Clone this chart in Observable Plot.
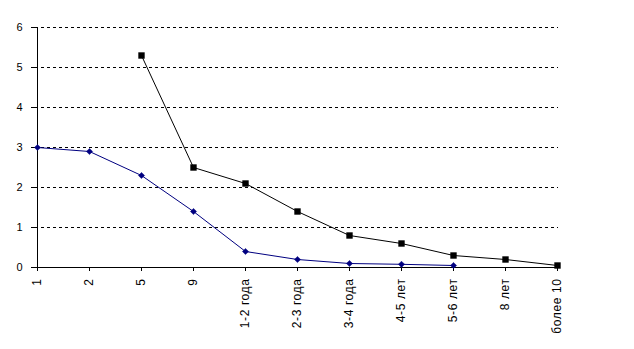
<!DOCTYPE html>
<html>
<head>
<meta charset="utf-8">
<script src="https://cdn.jsdelivr.net/npm/d3@7"></script>
<script src="https://cdn.jsdelivr.net/npm/@observablehq/plot@0.6"></script>
<style>
  html, body { margin: 0; padding: 0; background: #fff; }
  #chart svg { display: block; }
  #chart svg g[aria-label="x-axis tick label"] text { letter-spacing: 0.6px; }
</style>
</head>
<body>
<div id="chart"></div>
<script>
const categories = ["1", "2", "5", "9", "1-2 года", "2-3 года", "3-4 года", "4-5 лет", "5-6 лет", "8 лет", "более 10"];
const seriesBlue = [3.0, 2.9, 2.3, 1.4, 0.4, 0.2, 0.1, 0.08, 0.05, null, null];
const seriesBlack = [null, null, 5.3, 2.5, 2.1, 1.4, 0.8, 0.6, 0.3, 0.2, 0.05];
const yTicks = [0, 1, 2, 3, 4, 5, 6];
const gridValues = [1, 2, 3, 4, 5, 6];

const blueData = categories.map((c, i) => ({cat: c, v: seriesBlue[i]})).filter(d => d.v != null);
const blackData = categories.map((c, i) => ({cat: c, v: seriesBlack[i]})).filter(d => d.v != null);

const chart = Plot.plot({
  width: 634,
  height: 349,
  marginLeft: 35,
  marginRight: 76,
  marginTop: 27,
  marginBottom: 82,
  style: {fontFamily: "Arial, 'Liberation Sans', sans-serif", color: "#000", background: "#fff"},
  x: {type: "point", domain: categories, padding: 0},
  y: {domain: [0, 6]},
  marks: [
    Plot.ruleY(gridValues, {stroke: "#000", strokeDasharray: "3,3", strokeWidth: 1}),
    Plot.ruleX([categories[0]], {stroke: "#000", strokeWidth: 1}),
    Plot.ruleY([0], {stroke: "#000", strokeWidth: 1}),
    Plot.axisY({ticks: yTicks, tickFormat: d3.format("d"), tickSize: 4, tickPadding: 9, fontSize: 11, label: null, stroke: "#000"}),
    Plot.axisX({tickRotate: -90, tickSize: 4, tickPadding: 7, fontSize: 12, label: null, stroke: "#000"}),
    Plot.line(blueData, {x: "cat", y: "v", stroke: "#000080", strokeWidth: 1}),
    Plot.dot(blueData, {x: "cat", y: "v", symbol: "diamond2", r: 2.8, fill: "#000080", stroke: "#000080", strokeWidth: 0.5}),
    Plot.line(blackData, {x: "cat", y: "v", stroke: "#000", strokeWidth: 1}),
    Plot.dot(blackData, {x: "cat", y: "v", symbol: "square", r: 3.6, fill: "#000", stroke: "none"})
  ]
});
document.getElementById("chart").appendChild(chart);
</script>
</body>
</html>
